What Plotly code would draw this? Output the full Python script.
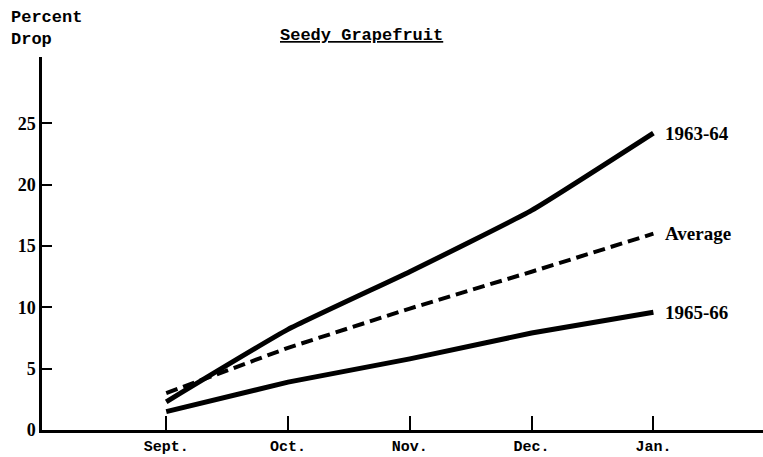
import plotly.graph_objects as go

months = ["Sept.", "Oct.", "Nov.", "Dec.", "Jan."]
x_idx = [0, 1, 2, 3, 4]
y_1963_64 = [2.3, 8.2, 12.9, 17.9, 24.2]
y_average = [3.0, 6.7, 9.9, 12.9, 16.0]
y_1965_66 = [1.5, 3.9, 5.8, 7.9, 9.6]
y_ticks = [0, 5, 10, 15, 20, 25]

MONO = "Liberation Mono"
SERIF = "Liberation Serif"

fig = go.Figure()
fig.add_trace(go.Scatter(x=x_idx, y=y_1963_64, mode="lines",
                         line=dict(color="black", width=5, shape="spline", smoothing=0.4),
                         showlegend=False))
fig.add_trace(go.Scatter(x=x_idx, y=y_average, mode="lines",
                         line=dict(color="black", width=4, dash="12px,6px"), showlegend=False))
fig.add_trace(go.Scatter(x=x_idx, y=y_1965_66, mode="lines",
                         line=dict(color="black", width=5), showlegend=False))

labels = [("1963-64", y_1963_64[-1]), ("Average", y_average[-1]), ("1965-66", y_1965_66[-1])]
for txt, yv in labels:
    fig.add_annotation(x=x_idx[-1] + 0.08, y=yv, xref="x", yref="y", text="<b>%s</b>" % txt,
                       showarrow=False, xanchor="left", yanchor="middle",
                       font=dict(family=SERIF, size=19, color="black"))

fig.add_annotation(x=0.0, y=1.0, xref="paper", yref="paper", xanchor="left", yanchor="bottom",
                   xshift=-33, yshift=6,
                   text="<b>Percent<br>Drop</b>", showarrow=False, align="left",
                   font=dict(family=MONO, size=17, color="black"))
fig.add_annotation(x=1.6, y=1.0, xref="x", yref="paper", xanchor="center", yanchor="bottom",
                   yshift=10,
                   text="<b><u>Seedy Grapefruit</u></b>", showarrow=False,
                   font=dict(family=MONO, size=17, color="black"))

fig.update_xaxes(range=[-1.02, 4.9], tickvals=x_idx, ticktext=["<b>%s</b>" % m for m in months],
                 showline=True, linecolor="black", linewidth=2.5,
                 ticks="inside", ticklen=14, tickwidth=2, tickcolor="black",
                 showgrid=False, zeroline=False, automargin=False,
                 tickfont=dict(family=MONO, size=15, color="black"))
fig.update_yaxes(range=[0, 30.4], tickvals=y_ticks, ticktext=["<b>%d</b>" % v for v in y_ticks],
                 showline=True, linecolor="black", linewidth=2.5,
                 ticks="inside", ticklen=10, tickwidth=2, tickcolor="black",
                 showgrid=False, zeroline=False, automargin=False,
                 tickfont=dict(family=SERIF, size=18, color="black"))

fig.update_layout(width=763, height=457, margin=dict(l=42, r=0, t=57, b=27),
                  plot_bgcolor="white", paper_bgcolor="white")

fig.write_html("out.html", config={"displayModeBar": False},
               post_script="document.body.style.margin='0';")
